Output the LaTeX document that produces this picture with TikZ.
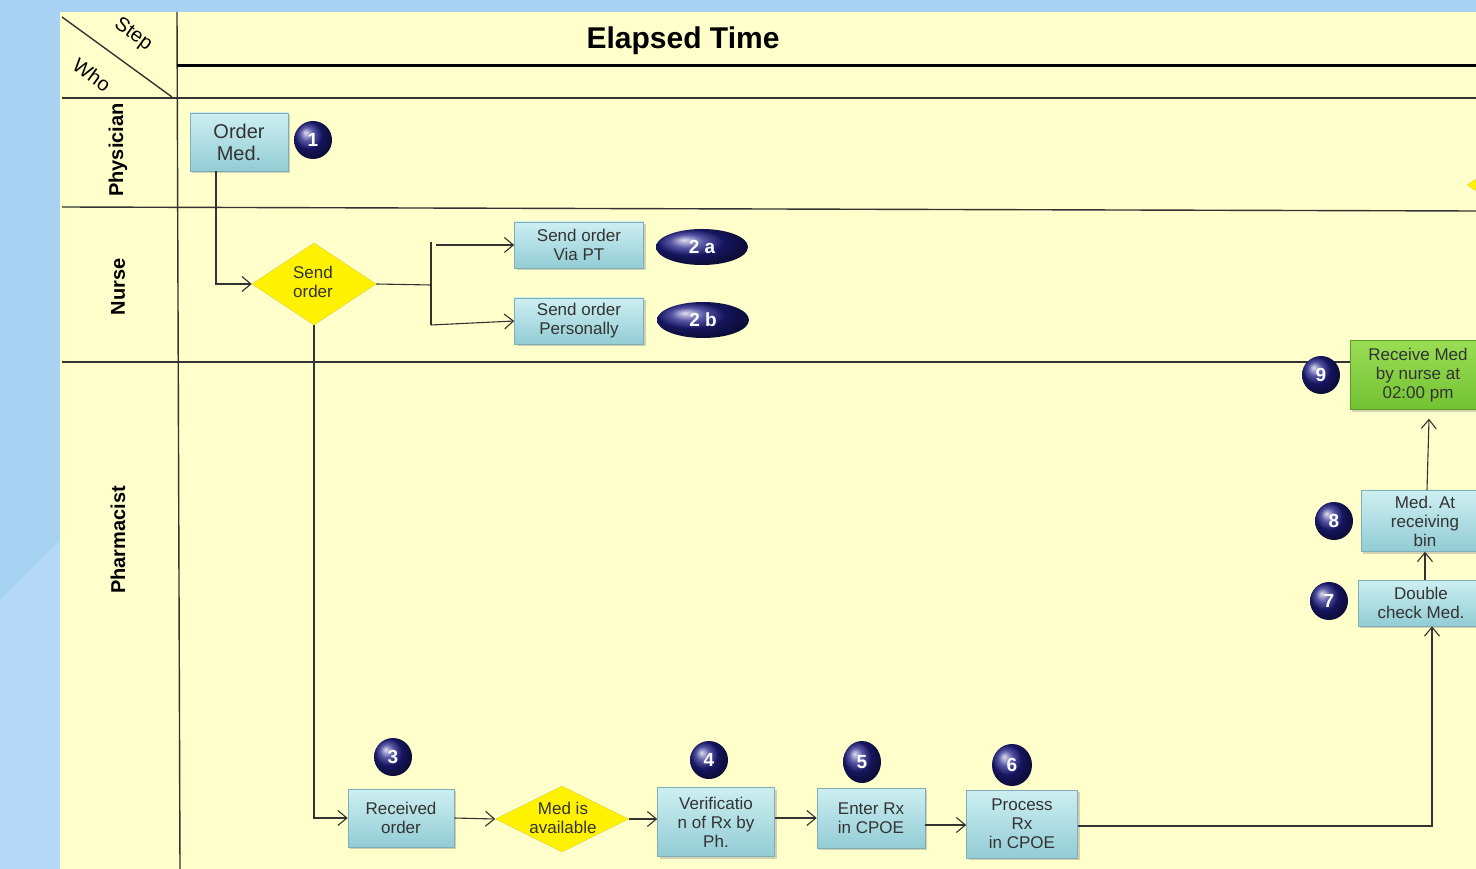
\documentclass[tikz,border=0pt]{standalone}
\usepackage{fontspec}
\setmainfont{Liberation Sans}
\usetikzlibrary{shapes.geometric,shadows,arrows.meta}
\definecolor{bgblue}{HTML}{A8D2F2}
\definecolor{bgblue2}{HTML}{B4D8F6}
\definecolor{panel}{HTML}{FFFFCC}
\definecolor{boxtop}{HTML}{CDEFF2}
\definecolor{boxbot}{HTML}{92CCD4}
\definecolor{boxline}{HTML}{7FAEB8}
\definecolor{gtop}{HTML}{9ADD55}
\definecolor{gbot}{HTML}{72C232}
\definecolor{navy}{HTML}{2424A0}
\definecolor{lanegray}{HTML}{333333}
\tikzset{
  stepbox/.style={draw=boxline, line width=0.6pt, top color=boxtop, bottom color=boxbot,
    drop shadow={shadow xshift=2pt, shadow yshift=-2pt, opacity=0.35},
    align=center, inner sep=0pt, font=\fontsize{17}{19}\selectfont, text=black!80},
  greenbox/.style={stepbox, draw=gbot!80!black, top color=gtop, bottom color=gbot},
  decision/.style={diamond, draw=yellow!70!gray, line width=0.5pt, fill=yellow, inner sep=0pt},
  dtext/.style={align=center, font=\fontsize{17}{19}\selectfont, text=black!80},
  badge/.style={circle, ball color=navy!85!black, text=white, inner sep=0pt, minimum size=38pt,
    font=\bfseries\fontsize{19}{19}\selectfont},
  ebadge/.style={ellipse, ball color=navy!85!black, text=white, inner sep=0pt, minimum width=92pt,
    minimum height=36pt, font=\bfseries\fontsize{19}{19}\selectfont},
  lane/.style={line width=1.4pt, draw=lanegray},
  conn/.style={line width=1.1pt, draw=black!80},
  arr/.style={conn, -{Straight Barb[length=9pt,width=15pt]}},
  lanelabel/.style={rotate=90, font=\bfseries\fontsize{20}{20}\selectfont},
}
\begin{document}
\begin{tikzpicture}[x=1pt,y=-1pt]
\useasboundingbox (0,0) rectangle (1476,869);
\clip (0,0) rectangle (1476,869);
% background
\fill[bgblue] (0,0) rectangle (1476,869);
\fill[bgblue2] (0,600) -- (60,540) -- (60,869) -- (0,869) -- cycle;
\fill[panel] (60,12) rectangle (1476,869);
% grid
\draw[lane] (177,12) -- (180,869);
\draw[line width=3pt] (177,66) -- (1476,66);
\draw[lane] (62,98) -- (1476,98);
\draw[lane] (62,17) -- (172,97);
\draw[lane] (62,207) -- (1476,211);
\draw[lane] (62,362) -- (1476,362);
% header texts
\node[rotate=-36, font=\fontsize{20}{20}\selectfont, inner sep=0pt] (step) at (133,35) {Step};
\node[rotate=-36, font=\fontsize{20}{20}\selectfont, inner sep=0pt] (who) at (92,75) {Who};
\node[font=\bfseries\fontsize{30}{30}\selectfont] (elapsed) at (683,41) {Elapsed Time};
\node[lanelabel] (physician) at (118,150) {Physician};
\node[lanelabel] (nurse) at (118,287) {Nurse};
\node[lanelabel] (pharmacist) at (118,540) {Pharmacist};
% nodes
\node[stepbox, minimum width=98pt, minimum height=58pt, font=\fontsize{20}{22}\selectfont] (order) at (239,142) {Order\\Med.};
\node[badge] (b1) at (313,140) {1};
\node[decision, minimum width=124pt, minimum height=82pt] (send) at (314,284) {};
\node[dtext] (sendtxt) at (313,282) {Send\\order};
\node[stepbox, minimum width=129pt, minimum height=46pt] (viapt) at (579,245) {Send order\\Via PT};
\node[ebadge] (b2a) at (702,247) {2 a};
\node[stepbox, minimum width=129pt, minimum height=46pt] (pers) at (579,321) {Send order\\Personally};
\node[ebadge] (b2b) at (703,320) {2 b};
\node[greenbox, minimum width=136pt, minimum height=69pt] (recv) at (1418,375) {Receive Med\\by nurse at\\02:00 pm};
\node[badge] (b9) at (1321,375) {9};
\node[stepbox, minimum width=128pt, minimum height=61pt] (bin) at (1425,521) {Med. At\\receiving\\bin};
\node[badge] (b8) at (1334,521) {8};
\node[stepbox, minimum width=126pt, minimum height=46pt] (dbl) at (1421,603) {Double\\check Med.};
\node[badge] (b7) at (1329,601) {7};
\node[stepbox, minimum width=106pt, minimum height=58pt] (rcvd) at (401,818) {Received\\order};
\node[badge] (b3) at (393,757) {3};
\node[decision, minimum width=133pt, minimum height=66pt] (avail) at (562,819) {};
\node[dtext] (availtxt) at (563,818) {Med is\\available};
\node[stepbox, minimum width=117pt, minimum height=69pt] (verif) at (716,822) {Verificatio\\n of Rx by\\Ph.};
\node[badge] (b4) at (709,760) {4};
\node[stepbox, minimum width=108pt, minimum height=60pt] (enter) at (871,818) {Enter Rx\\in CPOE};
\node[badge, ellipse, minimum width=38pt, minimum height=42pt] (b5) at (862,762) {5};
\node[stepbox, minimum width=111pt, minimum height=68pt] (proc) at (1022,824) {Process\\Rx\\in CPOE};
\node[badge, ellipse, minimum width=40pt, minimum height=42pt] (b6) at (1012,765) {6};
\node[decision, minimum width=126pt, minimum height=82pt] (edge) at (1530,185) {};
% connectors
\draw[arr] ([xshift=-23pt]order.south) |- (send.west);
\coordinate (j) at (431,285);
\coordinate (jt) at (431,242);
\coordinate (jb) at (431,325);
\draw[conn] (send.east) -- (j);
\draw[conn] (jt) -- (jb);
\draw[arr] ([xshift=5pt]jt |- viapt.west) -- (viapt.west);
\draw[arr] (jb) -- (pers.west);
\draw[arr] (send.south) |- (rcvd.west);
\draw[arr] (rcvd.east) -- (avail.west);
\draw[arr] (avail.east) -- (verif.west |- avail.east);
\draw[arr] (verif.east |- enter.west) -- (enter.west);
\draw[arr] ([yshift=-7pt]enter.east) -- ([yshift=-7pt]proc.west |- enter.east);
\draw[arr] ([yshift=-2pt]proc.east) -| ([xshift=11pt]dbl.south);
\draw[arr] ([xshift=4pt]dbl.north) -- (bin.south);
\draw[arr] ([xshift=2pt]bin.north) -- ([xshift=11pt,yshift=-9pt]recv.south);
\end{tikzpicture}
\end{document}
